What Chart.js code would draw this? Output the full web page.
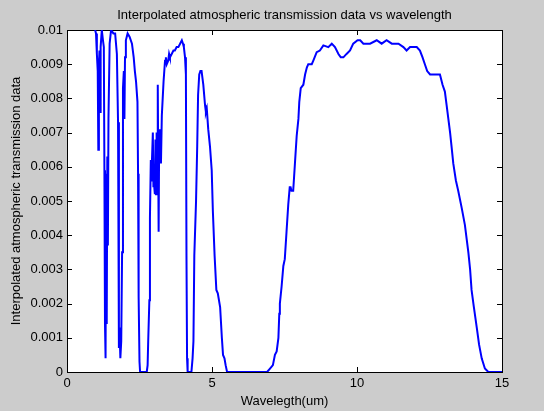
<!DOCTYPE html>
<html>
<head>
<meta charset="utf-8">
<script src="https://cdn.jsdelivr.net/npm/chart.js@4.4.1/dist/chart.umd.min.js"></script>
<style>
  html, body { margin: 0; padding: 0; background: #cccccc; }
  #wrap { width: 544px; height: 411px; }
</style>
</head>
<body>
<div id="wrap"><canvas id="transChart" width="544" height="411"></canvas></div>
<script>
// Wavelength (um) and interpolated transmission
const wavelength = [
  0.97, 1.00, 1.03, 1.06, 1.08, 1.10, 1.12, 1.14, 1.16, 1.20, 1.24, 1.27, 1.29, 1.31, 1.33, 1.35,
  1.37, 1.39, 1.41, 1.43, 1.47, 1.52, 1.60, 1.66, 1.72, 1.76, 1.79, 1.81, 1.84, 1.87, 1.90, 1.93,
  1.96, 1.98, 2.00, 2.03, 2.09, 2.16, 2.24, 2.30, 2.34, 2.38, 2.43, 2.45, 2.47, 2.50, 2.52, 2.75,
  2.78, 2.80, 2.84, 2.86, 2.89, 2.91, 2.93, 2.96, 2.98, 3.00, 3.03, 3.05, 3.07, 3.09, 3.11, 3.13,
  3.16, 3.18, 3.20, 3.22, 3.24, 3.27, 3.30, 3.33, 3.38, 3.41, 3.44, 3.49, 3.52, 3.55, 3.61, 3.67,
  3.72, 3.78, 3.84, 3.90, 3.96, 4.00, 4.03, 4.07, 4.10, 4.12, 4.14, 4.16, 4.29, 4.33, 4.36, 4.39,
  4.45, 4.49, 4.52, 4.56, 4.60, 4.64, 4.70, 4.76, 4.79, 4.82, 4.87, 4.93, 4.99, 5.03, 5.09, 5.15,
  5.20, 5.28, 5.34, 5.38, 5.43, 5.47, 5.52, 6.90, 7.00, 7.10, 7.17, 7.23, 7.29, 7.32, 7.34, 7.40,
  7.46, 7.51, 7.57, 7.63, 7.68, 7.71, 7.74, 7.80, 7.86, 7.92, 7.98, 8.01, 8.06, 8.15, 8.21, 8.27,
  8.32, 8.44, 8.49, 8.61, 8.72, 8.84, 9.01, 9.13, 9.24, 9.36, 9.44, 9.53, 9.64, 9.76, 9.87, 10.02,
  10.11, 10.22, 10.33, 10.45, 10.68, 10.85, 11.02, 11.20, 11.43, 11.60, 11.71, 11.83, 11.94, 12.06, 12.17, 12.26,
  12.34, 12.42, 12.52, 12.64, 12.75, 12.86, 12.95, 13.03, 13.09, 13.15, 13.21, 13.26, 13.32, 13.41, 13.49, 13.61,
  13.72, 13.84, 13.90, 13.95, 14.03, 14.13, 14.21, 14.30, 14.41, 14.53, 15.00
];
const transmission = [
  0.0100, 0.0099, 0.0093, 0.0088, 0.0065, 0.0090, 0.0094, 0.0076, 0.0095, 0.0100, 0.0097, 0.0095, 0.0059, 0.0014, 0.0004, 0.0058,
  0.0014, 0.0063, 0.0037, 0.0074, 0.0096, 0.0100, 0.0099, 0.0099, 0.0093, 0.0073, 0.0007, 0.0013, 0.0004, 0.0009, 0.0035, 0.0083,
  0.0088, 0.0074, 0.0092, 0.0097, 0.0099, 0.0098, 0.0096, 0.0092, 0.0088, 0.0085, 0.0079, 0.0058, 0.0022, 0.0003, 0.0000, 0.0000,
  0.0002, 0.0009, 0.0021, 0.0045, 0.0062, 0.0056, 0.0062, 0.0070, 0.0054, 0.0055, 0.0052, 0.0068, 0.0052, 0.0070, 0.0060, 0.0084,
  0.0041, 0.0071, 0.0061, 0.0071, 0.0061, 0.0075, 0.0080, 0.0085, 0.0091, 0.0092, 0.0090, 0.0091, 0.0093, 0.0092, 0.0093, 0.0094,
  0.0094, 0.0095, 0.0095, 0.0096, 0.0097, 0.0096, 0.0095, 0.0092, 0.0087, 0.0034, 0.0004, 0.0000, 0.0000, 0.0004, 0.0009, 0.0034,
  0.0050, 0.0066, 0.0081, 0.0087, 0.0088, 0.0088, 0.0084, 0.0078, 0.0076, 0.0077, 0.0071, 0.0066, 0.0059, 0.0047, 0.0034, 0.0024,
  0.0023, 0.0019, 0.0010, 0.0005, 0.0004, 0.0002, 0.0000, 0.0000, 0.0001, 0.0002, 0.0005, 0.0006, 0.0010, 0.0017, 0.0020, 0.0025,
  0.0031, 0.0033, 0.0041, 0.0049, 0.0054, 0.0054, 0.0053, 0.0053, 0.0061, 0.0069, 0.0074, 0.0079, 0.0083, 0.0084, 0.0087, 0.0089,
  0.0090, 0.0090, 0.0091, 0.00935, 0.0094, 0.00955, 0.0095, 0.0096, 0.0095, 0.0093, 0.0092, 0.0092, 0.0093, 0.0094, 0.0096, 0.0097,
  0.0097, 0.0096, 0.0096, 0.0096, 0.0097, 0.0096, 0.0097, 0.0096, 0.0096, 0.0095, 0.0094, 0.0095, 0.0095, 0.0095, 0.0094, 0.0092,
  0.0090, 0.0088, 0.0087, 0.0087, 0.0087, 0.0087, 0.0084, 0.0082, 0.0078, 0.0074, 0.0070, 0.0066, 0.0061, 0.0056, 0.0053, 0.0048,
  0.0043, 0.0035, 0.0030, 0.0024, 0.0019, 0.0013, 0.0008, 0.0004, 0.0001, 0.0000, 0.0000
];
const xTickValues = [0, 5, 10, 15];
const yTickValues = [0, 0.001, 0.002, 0.003, 0.004, 0.005, 0.006, 0.007, 0.008, 0.009, 0.01];

const chartTitle = 'Interpolated atmospheric transmission data vs wavelength';
const xTitle = 'Wavelegth(um)';
const yTitle = 'Interpolated atmospheric transmission data';

Chart.defaults.font.family = '"Liberation Sans", Arial, sans-serif';
Chart.defaults.font.size = 13;
Chart.defaults.color = '#000';

// white plot box
const plotBackground = {
    id: 'plotBackground',
    beforeDraw(chart) {
        const { ctx, chartArea: a } = chart;
        ctx.save();
        ctx.fillStyle = '#fff';
        ctx.fillRect(a.left, a.top, a.right - a.left, a.bottom - a.top);
        ctx.restore();
    }
};

// matlab style ticks pointing into the box, on all four sides
const inwardTicks = {
    id: 'inwardTicks',
    afterDatasetsDraw(chart) {
        const { ctx, chartArea: a, scales } = chart;
        const len = 5;
        ctx.save();
        ctx.strokeStyle = '#000';
        ctx.lineWidth = 1;
        ctx.beginPath();
        xTickValues.forEach(v => {
            const px = Math.round(scales.x.getPixelForValue(v)) + 0.5;
            ctx.moveTo(px, a.bottom); ctx.lineTo(px, a.bottom - len);
            ctx.moveTo(px, a.top); ctx.lineTo(px, a.top + len);
        });
        yTickValues.forEach(v => {
            const py = Math.round(scales.y.getPixelForValue(v)) + 0.5;
            ctx.moveTo(a.left, py); ctx.lineTo(a.left + len, py);
            ctx.moveTo(a.right, py); ctx.lineTo(a.right - len, py);
        });
        ctx.stroke();
        ctx.restore();
    }
};

const points = wavelength.map((w, i) => ({ x: w, y: transmission[i] }));

const border = { display: true, color: '#000', width: 1 };

new Chart(document.getElementById('transChart'), {
    type: 'line',
    data: {
        datasets: [{
            data: points,
            borderColor: '#0000ff',
            borderWidth: 2,
            pointRadius: 0,
            tension: 0,
            fill: false
        }]
    },
    options: {
        responsive: false,
        animation: false,
        layout: { padding: 0 },
        plugins: {
            legend: { display: false },
            title: { display: false },
            tooltip: { enabled: false }
        },
        scales: {
            x: {
                type: 'linear',
                position: 'bottom',
                min: 0,
                max: 15,
                afterBuildTicks: s => { s.ticks = xTickValues.map(v => ({ value: v })); },
                afterFit: s => { s.height = 39; },
                ticks: { padding: 4, maxRotation: 0 },
                grid: { display: false, drawTicks: false },
                border: border,
                title: { display: true, text: xTitle, padding: { top: 0, bottom: 2 } }
            },
            x2: {
                type: 'linear',
                position: 'top',
                min: 0,
                max: 15,
                afterFit: s => { s.height = 30; },
                ticks: { display: false },
                grid: { display: false, drawTicks: false },
                border: border,
                title: { display: true, text: chartTitle, padding: { top: 8, bottom: 0 } }
            },
            y: {
                type: 'linear',
                position: 'left',
                min: 0,
                max: 0.01,
                afterBuildTicks: s => { s.ticks = yTickValues.map(v => ({ value: v })); },
                afterFit: s => { s.width = 67; },
                ticks: {
                    padding: 4,
                    callback: v => String(+v.toFixed(3))
                },
                grid: { display: false, drawTicks: false },
                border: border,
                title: { display: true, text: yTitle, padding: { top: 9, bottom: 0 } }
            },
            y2: {
                type: 'linear',
                position: 'right',
                min: 0,
                max: 0.01,
                afterFit: s => { s.width = 42; },
                ticks: { display: false },
                grid: { display: false, drawTicks: false },
                border: border
            }
        }
    },
    plugins: [plotBackground, inwardTicks]
});
</script>
</body>
</html>
